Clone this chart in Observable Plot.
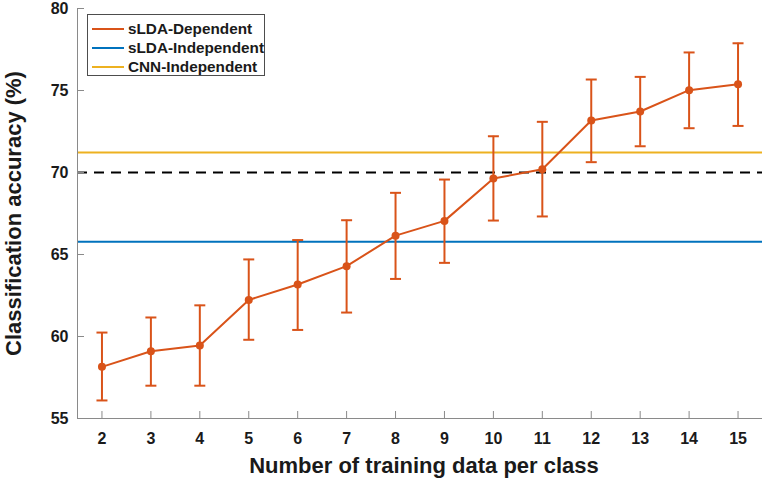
<!DOCTYPE html>
<html>
<head>
<meta charset="utf-8">
<script src="https://cdn.jsdelivr.net/npm/d3@7"></script>
<script src="https://cdn.jsdelivr.net/npm/@observablehq/plot@0.6"></script>
<style>
  body { margin: 0; background: #fff; }
  #wrap { position: relative; width: 765px; height: 485px; font-family: "Liberation Sans", Arial, sans-serif; }
  #legend { position: absolute; left: 87px; top: 14px; width: 176px; height: 60px; border: 1px solid #4d4d4d; background: #fff; }
  .item { position: absolute; left: 0; height: 19px; }
  .swatch { position: absolute; left: 4px; width: 32px; height: 0; border-top: 2px solid; top: 8px; }
  .lbl { position: absolute; left: 40px; top: 0; font-weight: bold; font-size: 15.3px; line-height: 18px; color: #1a1a1a; white-space: nowrap; }
</style>
</head>
<body>
<div id="wrap"></div>
<script>
// ---- data ----
const nTrain   = [2, 3, 4, 5, 6, 7, 8, 9, 10, 11, 12, 13, 14, 15];
const accMean  = [58.15, 59.1, 59.45, 62.23, 63.17, 64.29, 66.15, 67.05, 69.63, 70.2, 73.17, 73.72, 75.02, 75.38];
const accUpper = [60.24, 61.16, 61.9, 64.7, 65.88, 67.09, 68.76, 69.57, 72.21, 73.09, 75.67, 75.83, 77.32, 77.88];
const accLower = [56.1, 57.0, 57.0, 59.8, 60.4, 61.46, 63.51, 64.49, 67.07, 67.32, 70.63, 71.6, 72.7, 72.84];
const sldaIndependent = 65.77;
const cnnIndependent = 71.22;
const thresholdLine = 70;
const xTicks = [2, 3, 4, 5, 6, 7, 8, 9, 10, 11, 12, 13, 14, 15];
const yTicks = [55, 60, 65, 70, 75, 80];
const seriesNames = ["sLDA-Dependent", "sLDA-Independent", "CNN-Independent"];
const seriesColors = ["#D95319", "#0072BD", "#EDB120"];
const xTitle = "Number of training data per class";
const yTitle = "Classification accuracy (%)";

const rows = nTrain.map((n, i) => ({n, mean: accMean[i], hi: accUpper[i], lo: accLower[i]}));

const W = 765, H = 485, mL = 77, mR = 3, mT = 8, mB = 67;
const plotW = W - mL - mR, plotH = H - mT - mB;
const axisGray = "#8a8a8a";
const red = seriesColors[0];

const capSymbol = {
  draw(ctx, size) {
    const w = Math.sqrt(size) / 2;
    ctx.moveTo(-w, 0);
    ctx.lineTo(w, 0);
  }
};

const chart = Plot.plot({
  width: W, height: H,
  marginLeft: mL, marginRight: mR, marginTop: mT, marginBottom: mB,
  style: {fontFamily: "'Liberation Sans', Arial, sans-serif", fontWeight: "bold", fontSize: "16px", background: "#fff", color: "#1a1a1a", overflow: "visible"},
  x: {domain: [1.5, 15.5]},
  y: {domain: [55, 80]},
  marks: [
    // reference lines
    Plot.ruleY([sldaIndependent], {stroke: seriesColors[1], strokeWidth: 2}),
    Plot.ruleY([cnnIndependent], {stroke: seriesColors[2], strokeWidth: 2}),
    Plot.ruleY([thresholdLine], {stroke: "#000", strokeWidth: 2, strokeDasharray: "10,7"}),
    // axes lines and inward ticks
    Plot.ruleX([1.5], {stroke: axisGray, strokeWidth: 1}),
    Plot.ruleY([55], {stroke: axisGray, strokeWidth: 1}),
    Plot.tickX(xTicks, {x: d => d, insetTop: plotH - 7, stroke: axisGray, strokeWidth: 1}),
    Plot.tickY(yTicks, {y: d => d, insetRight: plotW - 7, stroke: axisGray, strokeWidth: 1}),
    Plot.axisX(xTicks, {tickSize: 0, tickPadding: 14, fontSize: 16, fontWeight: "bold", label: null}),
    Plot.axisY(yTicks, {tickSize: 0, tickPadding: 9, fontSize: 16, fontWeight: "bold", label: null}),
    // error bars
    Plot.ruleX(rows, {x: "n", y1: "lo", y2: "hi", stroke: red, strokeWidth: 2}),
    Plot.dot(rows, {x: "n", y: "hi", symbol: capSymbol, r: 6.2, fill: "none", stroke: red, strokeWidth: 2}),
    Plot.dot(rows, {x: "n", y: "lo", symbol: capSymbol, r: 6.2, fill: "none", stroke: red, strokeWidth: 2}),
    // series
    Plot.line(rows, {x: "n", y: "mean", stroke: red, strokeWidth: 2}),
    Plot.dot(rows, {x: "n", y: "mean", r: 4, fill: red, stroke: "none"}),
    // titles
    Plot.text([xTitle], {text: d => d, frameAnchor: "bottom", dy: 54, dx: 4, fontSize: 22, fontWeight: "bold", fill: "#1a1a1a"}),
    Plot.text([yTitle], {text: d => d, frameAnchor: "left", textAnchor: "middle", rotate: -90, dx: -63.5, fontSize: 22, fontWeight: "bold", fill: "#1a1a1a"})
  ]
});

const wrap = document.getElementById("wrap");
wrap.appendChild(chart);

const legend = document.createElement("div");
legend.id = "legend";
seriesNames.forEach((name, i) => {
  const item = document.createElement("div");
  item.className = "item";
  item.style.top = (4.5 + i * 19.3) + "px";
  const sw = document.createElement("div");
  sw.className = "swatch";
  sw.style.borderTopColor = seriesColors[i];
  const lb = document.createElement("div");
  lb.className = "lbl";
  lb.textContent = name;
  item.appendChild(sw);
  item.appendChild(lb);
  legend.appendChild(item);
});
wrap.appendChild(legend);
</script>
</body>
</html>
